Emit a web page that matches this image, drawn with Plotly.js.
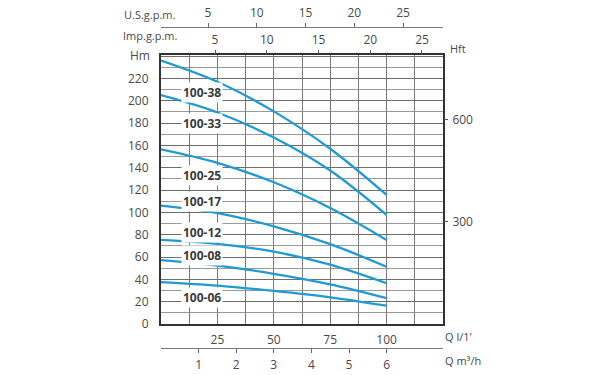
<!DOCTYPE html>
<html>
<head>
<meta charset="utf-8">
<script src="https://cdn.plot.ly/plotly-3.0.1.min.js"></script>
<style>html,body{margin:0;padding:0;background:#fff;}#chart{width:600px;height:375px;}</style>
</head>
<body>
<div id="chart"></div>
<script>
// Flow (l/min) sample points
const flowLmin = [0, 25, 50, 75, 100];
// Head (m) for each pump model
const pumpNames = ['100-38', '100-33', '100-25', '100-17', '100-12', '100-08', '100-06'];
const h38 = [236, 217, 190.5, 157, 115.6];
const h33 = [205, 189.5, 167, 137.5, 97.7];
const h25 = [156.5, 144.4, 127, 104, 75.3];
const h17 = [106, 99.3, 87.5, 71.5, 51.3];
const h12 = [75.3, 71.8, 64.8, 53.2, 36.5];
const h08 = [57.3, 52.3, 45, 35.5, 23.1];
const h06 = [37.6, 34.4, 29.6, 23.9, 16.4];
const heads = [h38, h33, h25, h17, h12, h08, h06];

// tick values
const lminTicks = [12.5, 25, 37.5, 50, 62.5, 75, 87.5, 100, 112.5, 125];
const lminText = ['', '25', '', '50', '', '75', '', '100', '', ''];
const hmTicks = [0, 20, 40, 60, 80, 100, 120, 140, 160, 180, 200, 220, 240];
const hmText = ['0', '20', '40', '60', '80', '100', '120', '140', '160', '180', '200', '220', ''];
const hftTicks = [300, 600];
const impTicks = [5, 10, 15, 20, 25];
const usTicks = [5, 10, 15, 20, 25];
const m3hTicks = [1, 2, 3, 4, 5, 6];

// layout geometry (pixels)
const W = 600, H = 375;
const L = 161, R = 443, TOP = 27, BOT = 348;
const plotTop = 55, plotBot = 324;
const px = x => (x - L) / (R - L);
const py = y => (BOT - y) / (BOT - TOP);

const font = {family: 'Open Sans, Noto Sans, sans-serif', size: 12, color: '#4a4a4a'};
const curveColor = '#1E9AD6';

const traces = heads.map((h, i) => ({
  type: 'scatter', mode: 'lines', x: flowLmin, y: h, name: pumpNames[i],
  line: {color: curveColor, width: 2.3, shape: 'spline', smoothing: 1},
  hoverinfo: 'skip', showlegend: false, xaxis: 'x', yaxis: 'y'
}));
// dummy traces to bind secondary axes
traces.push({type: 'scatter', x: [], y: [], xaxis: 'x2', yaxis: 'y', showlegend: false, hoverinfo: 'skip'});
traces.push({type: 'scatter', x: [], y: [], xaxis: 'x3', yaxis: 'y', showlegend: false, hoverinfo: 'skip'});
traces.push({type: 'scatter', x: [], y: [], xaxis: 'x4', yaxis: 'y', showlegend: false, hoverinfo: 'skip'});
traces.push({type: 'scatter', x: [], y: [], xaxis: 'x', yaxis: 'y2', showlegend: false, hoverinfo: 'skip'});

const labelQ = 18.3;
const labelH = [207.3, 179.2, 132.6, 109.6, 81.8, 61.8, 23.9];

const annotations = pumpNames.map((n, i) => ({
  xref: 'x', yref: 'y', x: labelQ, y: labelH[i], text: '<b>' + n + '</b>', showarrow: false,
  bgcolor: '#ffffff', borderpad: 1, font: {family: font.family, size: 12, color: '#3a3a3a'}
}));
const txt = (t, x, y, anchor, size) => ({
  xref: 'paper', yref: 'paper', x: px(x), y: py(y), text: t, showarrow: false,
  xanchor: anchor || 'center', yanchor: 'middle', font: {family: font.family, size: size || 11, color: '#4a4a4a'}
});
annotations.push(txt('U.S.g.p.m.', 149, 14));
annotations.push(txt('Imp.g.p.m.', 150, 35));
annotations.push(txt('Hm', 140, 55, 'center', 12));
annotations.push(txt('Hft', 458, 48, 'center', 11));
annotations.push(txt("Q l/1'", 443, 336, 'left', 11));
annotations.push(txt('Q m³/h', 443, 361, 'left', 11));

const layout = {
  width: W, height: H,
  margin: {l: L, r: W - R, t: TOP, b: H - BOT, pad: 0},
  paper_bgcolor: '#ffffff', plot_bgcolor: '#ffffff',
  font: font, showlegend: false,
  xaxis: {
    range: [0, 125], tickmode: 'array', tickvals: lminTicks, ticktext: lminText,
    showgrid: true, gridcolor: '#7a7a7a', gridwidth: 1, ticks: '', ticklabelstandoff: 4,
    showline: true, mirror: true, linecolor: '#333333', linewidth: 2, zeroline: false,
    anchor: 'y', fixedrange: true
  },
  yaxis: {
    domain: [py(plotBot), py(plotTop)],
    range: [0, 241], tickmode: 'array', tickvals: hmTicks, ticktext: hmText,
    showgrid: true, gridcolor: '#6e6e6e', gridwidth: 1, ticks: '', ticklabelstandoff: 8,
    minor: {dtick: 10, tick0: 0, showgrid: true, gridcolor: '#9a9a9a', gridwidth: 1},
    showline: true, mirror: true, linecolor: '#333333', linewidth: 2, zeroline: false,
    anchor: 'x', fixedrange: true
  },
  yaxis2: {
    overlaying: 'y', side: 'right', anchor: 'x',
    range: [0, 241 * 3.28084], tickmode: 'array', tickvals: hftTicks,
    ticks: 'outside', ticklen: 4, tickcolor: '#555', ticklabelstandoff: 2,
    showgrid: false, showline: false, zeroline: false, fixedrange: true
  },
  xaxis2: {
    overlaying: 'x', side: 'top', anchor: 'y',
    range: [-0.22, 27.03], tickmode: 'array', tickvals: impTicks,
    ticks: 'outside', ticklen: 4, tickcolor: '#555', ticklabelstandoff: 1,
    showgrid: false, showline: false, zeroline: false, fixedrange: true
  },
  xaxis3: {
    overlaying: 'x', side: 'top', anchor: 'free', position: 1,
    range: [0.18, 29.1], tickmode: 'array', tickvals: usTicks,
    ticks: 'outside', ticklen: 4, tickcolor: '#666', ticklabelstandoff: 1,
    showgrid: false, showline: true, linecolor: '#777', linewidth: 1, zeroline: false, fixedrange: true
  },
  xaxis4: {
    overlaying: 'x', side: 'bottom', anchor: 'free', position: 0,
    range: [0, 7.5], tickmode: 'array', tickvals: m3hTicks,
    ticks: 'outside', ticklen: 4, tickcolor: '#666', ticklabelstandoff: 2,
    showgrid: false, showline: true, linecolor: '#777', linewidth: 1, zeroline: false, fixedrange: true
  },
  annotations: annotations
};

Plotly.newPlot('chart', traces, layout, {staticPlot: true, displayModeBar: false});
</script>
</body>
</html>
